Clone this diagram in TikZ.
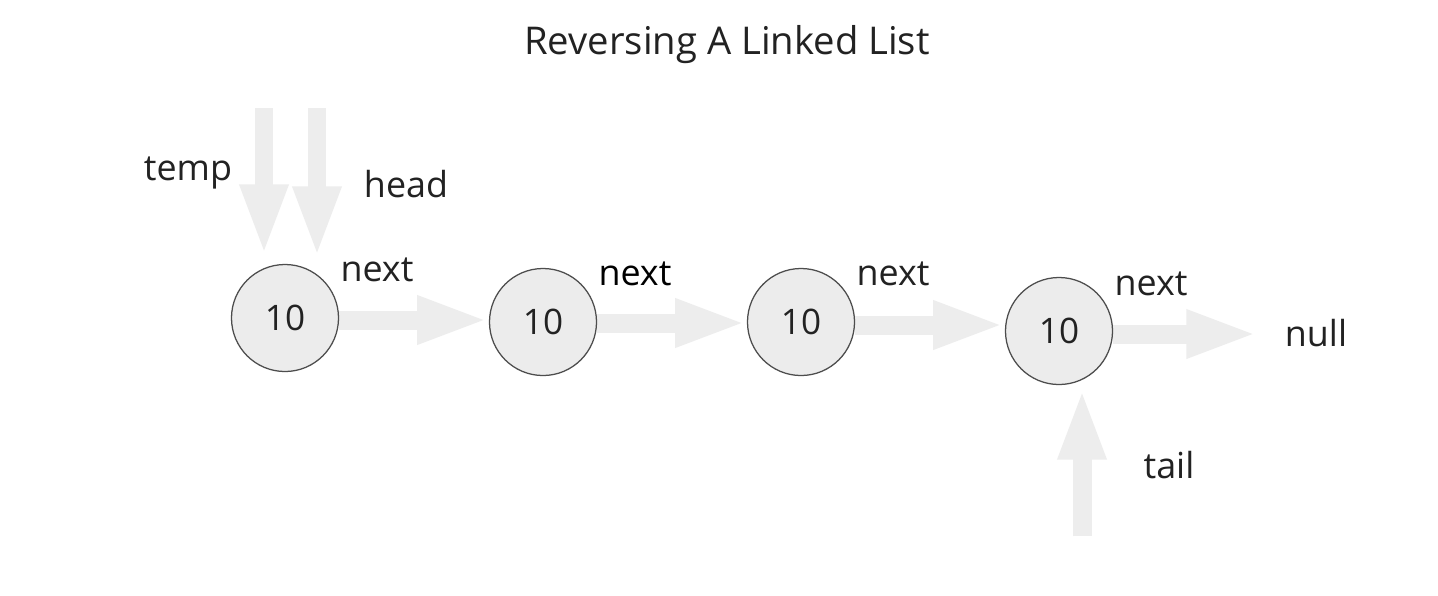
\documentclass[tikz,border=0pt]{standalone}
\usepackage{fontspec}
\setmainfont{Open Sans}
\usetikzlibrary{arrows.meta}
\pgfdeclarelayer{bg}
\pgfsetlayers{bg,main}
\definecolor{arrowgray}{HTML}{EDEDED}
\definecolor{nodefill}{HTML}{ECECEC}
\definecolor{nodeborder}{HTML}{4D4D4D}
\definecolor{txt}{HTML}{222222}
\tikzset{
  listnode/.style={circle, draw=nodeborder, fill=nodefill, line width=0.9pt,
    minimum size=107*0.7113pt, inner sep=0pt, font=\fontsize{25}{25}\selectfont, text=txt},
  lbl/.style={font=\fontsize{25.5}{26}\selectfont, text=txt, inner sep=0pt},
  bigarrow/.style={draw=arrowgray, line width=13.5pt,
    -{Triangle[length=51pt, width=31pt]}},
}
\begin{document}
\begin{tikzpicture}[x=0.025cm, y=-0.025cm]
\useasboundingbox (0,0) rectangle (1438,595);
\node[lbl, font=\fontsize{27.2}{28}\selectfont] (title) at (727,45) {Reversing A Linked List};

\node[listnode] (n1) at (285,318) {10};
\node[listnode] (n2) at (543,322) {10};
\node[listnode] (n3) at (801,322) {10};
\node[listnode] (n4) at (1059,331) {10};

\node[lbl] (temp) at (188,173) {temp};
\node[lbl] (head) at (406,184) {head};
\node[lbl] (next1) at (377,270) {next};
\node[lbl, text=black] (next2) at (635,274) {next};
\node[lbl] (next3) at (893,274) {next};
\node[lbl] (next4) at (1151,284) {next};
\node[lbl] (null) at (1316,333) {null};
\node[lbl] (tail) at (1169,465) {tail};

\coordinate (tempTop) at (264,108);
\coordinate (tempTip) at (264,256);
\coordinate (headTop) at (317,108);
\coordinate (headTip) at (317,258);
\coordinate (tailBot) at (1082,536);
\coordinate (tailTip) at (1082,388);
\coordinate (nullTip) at (1258,334);

\begin{pgfonlayer}{bg}
\fill[white] (0,0) rectangle (1438,595);
\draw[bigarrow] (tempTop) -- (tempTip);
\draw[bigarrow] (headTop) -- (headTip);
\draw[bigarrow] (tailBot) -- (tailTip);
\draw[bigarrow] ([yshift=-2*0.7113pt]n1.east) -- ([yshift=-2*0.7113pt]n1.east -| n2.west);
\draw[bigarrow] ([yshift=-1*0.7113pt]n2.east) -- ([yshift=-1*0.7113pt]n2.east -| n3.west);
\draw[bigarrow] ([yshift=-3*0.7113pt]n3.east) -- ([yshift=-3*0.7113pt]n3.east -| n4.west);
\draw[bigarrow] (n4.east |- nullTip) -- (nullTip);
\end{pgfonlayer}
\end{tikzpicture}
\end{document}
